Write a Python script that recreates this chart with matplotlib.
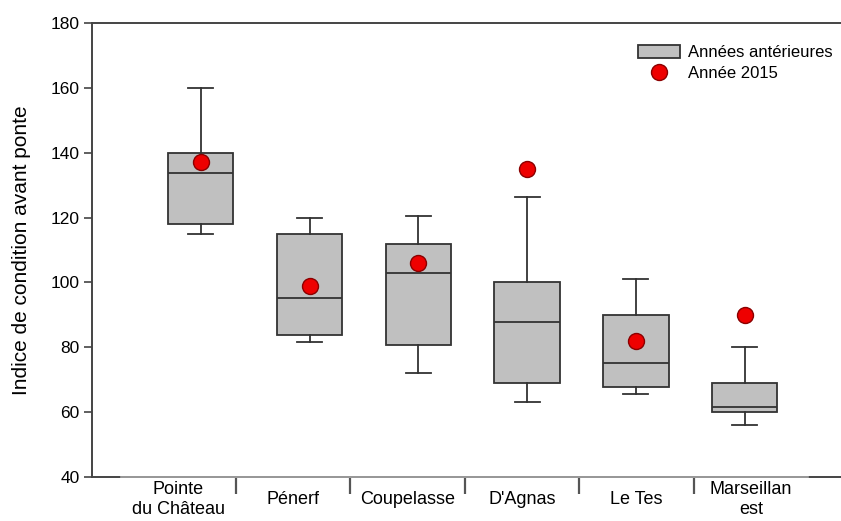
import matplotlib
matplotlib.use("Agg")
import matplotlib.pyplot as plt
from matplotlib.patches import Patch
from matplotlib.lines import Line2D

plt.rcParams['font.family'] = ['Liberation Sans', 'DejaVu Sans']

# ---- data ----
sites = ["Pointe\ndu Château", "Pénerf", "Coupelasse", "D'Agnas", "Le Tes", "Marseillan\nest"]
whisker_low = [115, 81.7, 72, 63.2, 65.6, 56]
q1 = [118, 83.7, 80.7, 69.1, 67.9, 60]
median = [133.6, 95.2, 102.8, 87.7, 75.1, 61.5]
q3 = [140, 115, 112, 100, 90, 69]
whisker_high = [160, 120, 120.6, 126.3, 101.2, 80]
year_2015 = [137, 99, 106, 135, 82, 90]

BOX_FILL = "#c0c0c0"
EDGE = "#333333"
SPINE = "#444444"

W, H = 841, 521
fig = plt.figure(figsize=(W / 100, H / 100), dpi=100)

# main axes (extends a little beyond the right edge, like the cropped original)
ax = fig.add_axes([92 / W, 1 - 477 / H, (848 - 92) / W, 454 / H])

stats = []
for i in range(len(sites)):
    stats.append({
        "whislo": whisker_low[i], "q1": q1[i], "med": median[i],
        "q3": q3[i], "whishi": whisker_high[i], "fliers": [],
    })

positions = list(range(1, len(sites) + 1))
ax.bxp(stats, positions=positions, widths=0.6, capwidths=0.23,
       patch_artist=True, showfliers=False,
       boxprops=dict(facecolor=BOX_FILL, edgecolor=EDGE, linewidth=1.3),
       medianprops=dict(color=EDGE, linewidth=1.3),
       whiskerprops=dict(color=EDGE, linewidth=1.3),
       capprops=dict(color=EDGE, linewidth=1.3))

ax.plot(positions, year_2015, linestyle="none", marker="o", markersize=11.5,
        markerfacecolor="#ee0000", markeredgecolor="#8b0000", markeredgewidth=1.0,
        zorder=5)

ax.set_xlim(0, 6.95)
ax.set_ylim(40, 180)
ax.set_yticks(range(40, 181, 20))
ax.set_xticks([])
ax.tick_params(axis="y", direction="out", length=6, width=1.2, color=SPINE,
               labelsize=12.5, pad=3)
ax.set_ylabel("Indice de condition avant ponte", fontsize=15, labelpad=14)
for side in ["left", "top", "bottom"]:
    ax.spines[side].set_color(SPINE)
    ax.spines[side].set_linewidth(1.4)
ax.spines["right"].set_visible(False)

# category axis drawn underneath, SigmaPlot style
ax2 = fig.add_axes([121 / W, 1 - 477 / H, (808 - 121) / W, 454 / H])
ax2.patch.set_visible(False)
ax2.set_xlim(0, len(sites))
ax2.set_ylim(0, 1)
ax2.set_yticks([])
for side in ["left", "top", "right"]:
    ax2.spines[side].set_visible(False)
ax2.spines["bottom"].set_color("#a8a8a8")
ax2.spines["bottom"].set_linewidth(1.2)
ax2.set_xticks(range(1, len(sites)))
ax2.set_xticklabels([])
ax2.set_xticks([i + 0.5 for i in range(len(sites))], minor=True)
ax2.set_xticklabels(sites, minor=True, fontsize=13, linespacing=1.2)
ax2.tick_params(axis="x", which="major", direction="out", length=12, width=1.6,
                color="#555555")
ax2.tick_params(axis="x", which="minor", length=0, pad=16)
for lab in ax2.get_xticklabels(minor=True):
    lab.set_va("center")

# legend
handles = [
    Patch(facecolor=BOX_FILL, edgecolor=EDGE, linewidth=1.3, label="Années antérieures"),
    Line2D([], [], linestyle="none", marker="o", markersize=11.5,
           markerfacecolor="#ee0000", markeredgecolor="#8b0000", label="Année 2015"),
]
fig.legend(handles=handles, loc="upper left", bbox_to_anchor=(630 / W, 1 - 37 / H),
           frameon=False, fontsize=12, handlelength=2.5, handleheight=0.75,
           handletextpad=0.45, labelspacing=0.35, borderpad=0)

fig.savefig("out.png", dpi=100)
